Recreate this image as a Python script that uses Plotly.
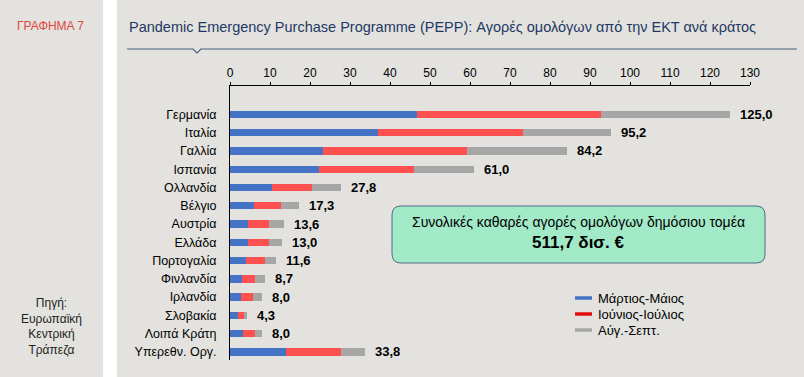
import plotly.graph_objects as go

# ---------------- data ----------------
categories = ["Γερμανία", "Ιταλία", "Γαλλία", "Ισπανία", "Ολλανδία", "Βέλγιο", "Αυστρία",
              "Ελλάδα", "Πορτογαλία", "Φινλανδία", "Ιρλανδία", "Σλοβακία", "Λοιπά Κράτη",
              "Υπερεθν. Οργ."]
mar_may = [46.7, 37.1, 23.3, 22.3, 10.4, 6.1, 4.6, 4.6, 4.0, 3.1, 2.7, 2.1, 3.2, 13.9]
jun_jul = [46.0, 36.2, 35.9, 23.7, 10.0, 6.7, 5.2, 5.2, 4.8, 3.2, 3.0, 1.4, 3.1, 13.9]
aug_sep = [32.3, 21.9, 25.0, 15.0, 7.4, 4.5, 3.8, 3.2, 2.8, 2.4, 2.3, 0.8, 1.7, 6.0]
totals = [125.0, 95.2, 84.2, 61.0, 27.8, 17.3, 13.6, 13.0, 11.6, 8.7, 8.0, 4.3, 8.0, 33.8]
series_names = ["Μάρτιος-Μάιος", "Ιούνιος-Ιούλιος", "Αύγ.-Σεπτ."]
x_ticks = list(range(0, 131, 10))
title_text = "Pandemic Emergency Purchase Programme (PEPP): Αγορές ομολόγων από την ΕΚΤ ανά κράτος"
box_line1 = "Συνολικές καθαρές αγορές ομολόγων δημόσιου τομέα"
box_line2 = "511,7 δισ. €"
chart_no = "ΓΡΑΦΗΜΑ 7"
source_text = "Πηγή:<br>Ευρωπαϊκή<br>Κεντρική<br>Τράπεζα"

# ---------------- styles ----------------
bar_colors = ["#4472c4", "#ff5050", "#a6a6a6"]
legend_colors = ["#4472c4", "#e01010", "#a6a6a6"]
BG = "#e3e2de"
FONT = "Arial, Liberation Sans, sans-serif"

W, H = 804, 377
L, R, T, B = 230, 54, 86, 17
PW, PH = W - L - R, H - T - B


def fx(x):
    return (x - L) / PW


def fy(y):
    return 1 - (y - T) / PH


fig = go.Figure()
for vals, name, col in zip([mar_may, jun_jul, aug_sep], series_names, bar_colors):
    fig.add_trace(go.Bar(x=vals, y=categories, orientation="h", name=name,
                         marker=dict(color=col, line=dict(width=0)), width=0.4,
                         showlegend=False, hoverinfo="x+y"))

annotations = []
for c, t in zip(categories, totals):
    annotations.append(dict(x=t, y=c, xref="x", yref="y", xanchor="left", xshift=8,
                            text="<b>" + f"{t:.1f}".replace(".", ",") + "</b>",
                            showarrow=False, font=dict(size=13, color="#000")))

# title and side texts
annotations.append(dict(x=fx(127), y=fy(27), xref="paper", yref="paper", xanchor="left",
                        yanchor="middle", text=title_text, showarrow=False,
                        font=dict(size=14.5, color="#1f3864")))
annotations.append(dict(x=fx(50), y=fy(26), xref="paper", yref="paper", xanchor="center",
                        yanchor="middle", text=chart_no, showarrow=False,
                        font=dict(size=12, color="#e0473c")))
annotations.append(dict(x=fx(51), y=fy(326), xref="paper", yref="paper", xanchor="center",
                        yanchor="middle", text=source_text, showarrow=False,
                        font=dict(size=12, color="#222")))
# text box contents
annotations.append(dict(x=fx(578), y=fy(222), xref="paper", yref="paper", xanchor="center",
                        yanchor="middle", text=box_line1, showarrow=False,
                        font=dict(size=14, color="#000")))
annotations.append(dict(x=fx(578), y=fy(242), xref="paper", yref="paper", xanchor="center",
                        yanchor="middle", text="<b>" + box_line2 + "</b>", showarrow=False,
                        font=dict(size=17, color="#000")))

shapes = []
# white separator strip
shapes.append(dict(type="rect", xref="paper", yref="paper", x0=fx(103), x1=fx(117),
                   y0=fy(0), y1=fy(H), fillcolor="white", line=dict(width=0), layer="below"))
# title underline with notch
p = [(127, 49), (193, 49), (197, 53), (201, 49), (797, 49)]
path = "M" + " L".join(f"{fx(a):.5f},{fy(b):.5f}" for a, b in p)
shapes.append(dict(type="path", xref="paper", yref="paper", path=path,
                   line=dict(color="#4a6080", width=1.2)))
# rounded text box
x0, x1, y0, y1, r = 392, 765, 206, 263, 9
pts = (f"M{fx(x0 + r)},{fy(y0)} L{fx(x1 - r)},{fy(y0)} Q{fx(x1)},{fy(y0)} {fx(x1)},{fy(y0 + r)} "
       f"L{fx(x1)},{fy(y1 - r)} Q{fx(x1)},{fy(y1)} {fx(x1 - r)},{fy(y1)} "
       f"L{fx(x0 + r)},{fy(y1)} Q{fx(x0)},{fy(y1)} {fx(x0)},{fy(y1 - r)} "
       f"L{fx(x0)},{fy(y0 + r)} Q{fx(x0)},{fy(y0)} {fx(x0 + r)},{fy(y0)} Z")
shapes.append(dict(type="path", xref="paper", yref="paper", path=pts,
                   fillcolor="#a2e9c8", line=dict(color="#4d6a88", width=1)))
# manual legend
for i, (name, col) in enumerate(zip(series_names, legend_colors)):
    yy = 298 + 16 * i
    shapes.append(dict(type="line", xref="paper", yref="paper", x0=fx(575), x1=fx(592),
                       y0=fy(yy), y1=fy(yy), line=dict(color=col, width=3.5)))
    annotations.append(dict(x=fx(596), y=fy(yy), xref="paper", yref="paper", xanchor="left",
                            yanchor="middle", text=name, showarrow=False,
                            font=dict(size=13, color="#000")))

fig.update_layout(
    width=W, height=H, margin=dict(l=L, r=R, t=T, b=B, autoexpand=False),
    paper_bgcolor=BG, plot_bgcolor=BG, barmode="stack", bargap=0,
    font=dict(family=FONT, size=12, color="#000"),
    showlegend=False, annotations=annotations, shapes=shapes,
    xaxis=dict(side="top", range=[0, 130], tickvals=x_ticks, ticktext=[str(v) for v in x_ticks],
               showline=True, linecolor="#000", linewidth=1, ticks="outside", ticklen=3,
               tickcolor="#000", showgrid=False, zeroline=False, tickfont=dict(size=12),
               fixedrange=True),
    yaxis=dict(type="category", categoryorder="array", categoryarray=categories,
               range=[13.44, -1.55], showline=True, linecolor="#000", linewidth=1,
               ticks="", showgrid=False, zeroline=False, tickfont=dict(size=12.5),
               ticklabelstandoff=10, fixedrange=True),
)

fig.write_html("out.html", config={"displayModeBar": False},
               post_script="document.body.style.margin='0';document.body.style.background='%s';" % BG)
